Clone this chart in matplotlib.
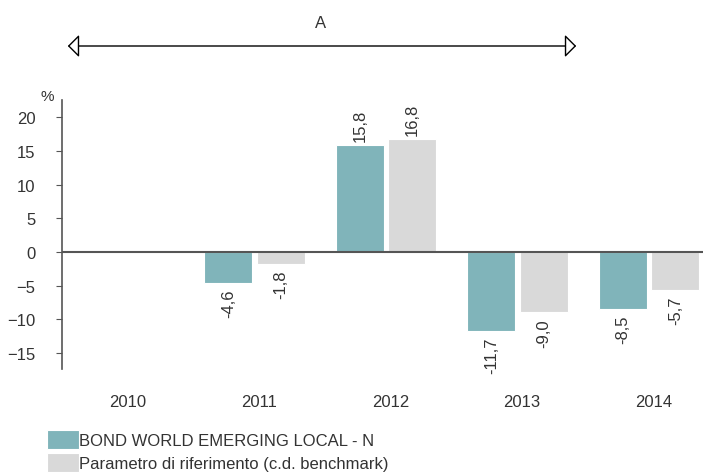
import matplotlib.pyplot as plt
import numpy as np
from matplotlib.patches import FancyArrowPatch

plt.rcParams['font.family'] = ['Liberation Sans', 'DejaVu Sans']

years = ['2010', '2011', '2012', '2013', '2014']
fund = [np.nan, -4.6, 15.8, -11.7, -8.5]
bench = [np.nan, -1.8, 16.8, -9.0, -5.7]
fund_name = 'BOND WORLD EMERGING LOCAL - N'
bench_name = 'Parametro di riferimento (c.d. benchmark)'

teal = '#80B4BA'
grey = '#D9D9D9'
txt = '#333333'

fig = plt.figure(figsize=(7.03, 4.77), dpi=100)
ax = fig.add_axes([0.0882, 0.2243, 0.935, 0.5646])

x = np.arange(len(years))
w = 0.365
shift = -0.034
b1 = ax.bar(x + shift - 0.2, fund, w, color=teal, edgecolor='white', linewidth=0.8, label=fund_name)
b2 = ax.bar(x + shift + 0.2, bench, w, color=grey, edgecolor='white', linewidth=0.8, label=bench_name)

for bars, vals in [(b1, fund), (b2, bench)]:
    for r, v in zip(bars, vals):
        if np.isnan(v):
            continue
        s = f'{v:.1f}'.replace('.', ',')
        cx = r.get_x() + r.get_width() / 2
        if v >= 0:
            ax.annotate(s, (cx, v), xytext=(0, 3), textcoords='offset points',
                        rotation=90, ha='center', va='bottom', fontsize=12, color=txt)
        else:
            ax.annotate(s, (cx, v), xytext=(0, -4), textcoords='offset points',
                        rotation=90, ha='center', va='top', fontsize=12, color=txt)

ax.set_xlim(-0.5, 4.5)
ax.set_ylim(-17.4, 22.6)
ax.set_yticks([-15, -10, -5, 0, 5, 10, 15, 20])
ax.set_xticks(x)
ax.set_xticklabels(years)
ax.axhline(0, color='#555555', linewidth=1.5, zorder=3)

for s in ['top', 'right', 'bottom']:
    ax.spines[s].set_visible(False)
ax.spines['left'].set_color('#555555')
ax.spines['left'].set_linewidth(1.2)
ax.tick_params(axis='y', length=4, color='#555555', pad=15, labelsize=12, labelcolor=txt)
ax.tick_params(axis='x', length=0, pad=18, labelsize=12, labelcolor=txt)

fig.text(47 / 703, 1 - 97 / 477, '%', fontsize=11, color=txt, ha='center', va='center')

# top span arrow
arr = FancyArrowPatch((65 / 703, 1 - 47 / 477), (579 / 703, 1 - 47 / 477),
                      transform=fig.transFigure, arrowstyle='<|-|>,head_length=0.5,head_width=0.5',
                      mutation_scale=14, facecolor='white', edgecolor='black', linewidth=1.0)
fig.patches.append(arr)
fig.text(321 / 703, 1 - 23 / 477, 'A', fontsize=12, color=txt, ha='center', va='center')

fig.legend(handles=[b1, b2], loc='upper left', bbox_to_anchor=(47 / 703, 1 - 431 / 477),
           frameon=False, fontsize=12, handlelength=1.92, handleheight=1.4,
           handletextpad=0.0, labelspacing=0.2, labelcolor=txt,
           borderpad=0, borderaxespad=0)

fig.savefig('out.png', dpi=100)
